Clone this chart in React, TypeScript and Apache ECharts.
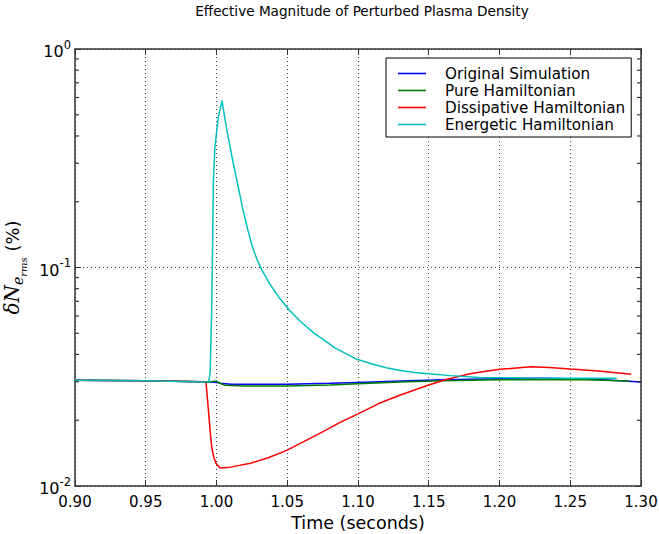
import React, { useEffect, useRef } from "react";
import * as echarts from "echarts";

const titleText = "Effective Magnitude of Perturbed Plasma Density";
const seriesNames = ["Original Simulation", "Pure Hamiltonian", "Dissipative Hamiltonian", "Energetic Hamiltonian"];
const seriesColors = ["#0000ff", "#008000", "#ff0000", "#00bfbf"];

const timeOriginal = [0.90, 0.95, 0.99, 0.995, 1.0, 1.003, 1.01, 1.03, 1.05, 1.08, 1.10, 1.13, 1.16, 1.20, 1.23, 1.25, 1.27, 1.30];
const valOriginal = [0.0305, 0.0303, 0.0300, 0.0300, 0.0298, 0.0295, 0.0292, 0.0292, 0.0292, 0.0295, 0.0298, 0.0302, 0.0306, 0.0310, 0.0311, 0.0310, 0.0307, 0.0299];

const timePure = [0.90, 0.95, 0.99, 0.997, 1.0, 1.002, 1.006, 1.02, 1.05, 1.08, 1.10, 1.13, 1.16, 1.20, 1.23, 1.26, 1.292];
const valPure = [0.0305, 0.0303, 0.0300, 0.0301, 0.0302, 0.0296, 0.0289, 0.0287, 0.0287, 0.0290, 0.0294, 0.0299, 0.0303, 0.0306, 0.0307, 0.0306, 0.0302];

const timeDissipative = [0.90, 0.95, 0.99, 0.9926, 0.9936, 0.9946, 0.9956, 0.9966, 0.998, 0.9996, 1.0025, 1.01, 1.024, 1.037, 1.05, 1.062, 1.075, 1.087, 1.10, 1.115, 1.13, 1.15, 1.163, 1.18, 1.20, 1.222, 1.235, 1.25, 1.27, 1.293];
const valDissipative = [0.0305, 0.0303, 0.0300, 0.0299, 0.0250, 0.0210, 0.0176, 0.0151, 0.0136, 0.0127, 0.0121, 0.0122, 0.0127, 0.0135, 0.0146, 0.0160, 0.0177, 0.0195, 0.0214, 0.0239, 0.0261, 0.0290, 0.0308, 0.0327, 0.0342, 0.0351, 0.0349, 0.0343, 0.0336, 0.0325];

const timeEnergetic = [0.90, 0.95, 0.99, 0.9945, 0.9955, 0.9965, 0.9972, 0.9978, 0.9989, 1.0013, 1.0039, 1.0055, 1.0072, 1.0092, 1.0118, 1.0145, 1.018, 1.0216, 1.0251, 1.0286, 1.0322, 1.0378, 1.0449, 1.0519, 1.059, 1.0682, 1.0837, 1.0993, 1.11, 1.12, 1.13, 1.14, 1.15, 1.165, 1.186, 1.22, 1.25, 1.2828];
const valEnergetic = [0.0305, 0.0303, 0.0299, 0.0300, 0.033, 0.06, 0.12, 0.25, 0.357, 0.49, 0.58, 0.50, 0.43, 0.368, 0.30, 0.249, 0.193, 0.1532, 0.1261, 0.1088, 0.0971, 0.0838, 0.0719, 0.0634, 0.0569, 0.0505, 0.0429, 0.0380, 0.0362, 0.0348, 0.0338, 0.0331, 0.0326, 0.0320, 0.0314, 0.0312, 0.0311, 0.0311];

const minorTickValues = [0.02, 0.03, 0.04, 0.05, 0.06, 0.07, 0.08, 0.09, 0.2, 0.3, 0.4, 0.5, 0.6, 0.7, 0.8, 0.9];

const X_MIN = 0.9;
const X_MAX = 1.3;
const FONT = "DejaVu Sans";

const zip = (t: number[], v: number[]) => t.map((x, i) => [x, v[i]]);

export default function App() {
  const ref = useRef<HTMLDivElement>(null);
  useEffect(() => {
    if (!ref.current) return;
    document.body.style.margin = "0";
    document.body.style.overflow = "hidden";
    const chart = echarts.init(ref.current, undefined, { renderer: "svg" });
    const datasets = [
      zip(timeOriginal, valOriginal),
      zip(timePure, valPure),
      zip(timeDissipative, valDissipative),
      zip(timeEnergetic, valEnergetic),
    ];
    const frame = "#333";
    const grid = { type: [1, 3], color: "#444", width: 1 };
    const option: any = {
      animation: false,
      backgroundColor: "#fff",
      textStyle: { fontFamily: FONT },
      title: {
        text: titleText,
        left: 357,
        top: -1,
        textAlign: "center",
        textStyle: { fontFamily: FONT, fontSize: 13.6, fontWeight: "normal", color: "#000" },
      },
      legend: {
        data: seriesNames.map((n) => ({ name: n, icon: "path://M0,0 L28,0 L28,1.6 L0,1.6 Z" })),
        orient: "vertical",
        left: 386,
        top: 58,
        width: 246,
        padding: [8, 6, 5, 12],
        itemWidth: 28,
        itemHeight: 14,
        itemGap: 2,
        symbolKeepAspect: true,
        backgroundColor: "#fff",
        borderColor: "#000",
        borderWidth: 1,
        borderRadius: 0,
        textStyle: { fontFamily: FONT, fontSize: 15.2, lineHeight: 15, color: "#000", padding: [0, 0, 0, 14] },
      },
      grid: { left: 75, top: 49, right: 18, bottom: 48, containLabel: false, outerBoundsMode: "none" },
      xAxis: [
        {
          type: "value",
          min: X_MIN,
          max: X_MAX,
          interval: 0.05,
          name: "Time (seconds)",
          nameLocation: "middle",
          nameGap: 26,
          nameTextStyle: { fontFamily: FONT, fontSize: 17.5, color: "#000" },
          axisLine: { show: true, onZero: false, lineStyle: { color: frame, width: 1.5 } },
          axisTick: { show: true, inside: true, length: 6, lineStyle: { color: frame } },
          axisLabel: {
            fontFamily: FONT,
            fontSize: 15,
            color: "#000",
            margin: 8,
            formatter: (v: number) => v.toFixed(2),
          },
          splitLine: { show: true, lineStyle: grid },
        },
        {
          type: "value",
          position: "top",
          min: X_MIN,
          max: X_MAX,
          interval: 0.05,
          axisLine: { show: true, onZero: false, lineStyle: { color: frame, width: 1.5 } },
          axisTick: { show: true, inside: true, length: 6, lineStyle: { color: frame } },
          axisLabel: { show: false },
          splitLine: { show: false },
        },
      ],
      yAxis: [
        {
          type: "log",
          logBase: 10,
          min: 0.01,
          max: 1,
          name: "{d|δN}{s|e}{ss|rms}{p| (%)}",
          nameLocation: "middle",
          nameRotate: 90,
          nameGap: 34,
          nameTextStyle: {
            color: "#000",
            rich: {
              d: { fontFamily: "DejaVu Serif", fontStyle: "italic", fontSize: 20, color: "#000", verticalAlign: "top" },
              s: { fontFamily: "DejaVu Serif", fontStyle: "italic", fontSize: 14, color: "#000", verticalAlign: "top", padding: [9, 0, 0, 0] },
              ss: { fontFamily: "DejaVu Serif", fontStyle: "italic", fontSize: 10, color: "#000", verticalAlign: "top", padding: [16, 0, 0, 0] },
              p: { fontFamily: FONT, fontSize: 18, color: "#000", verticalAlign: "top", padding: [1, 0, 0, 0] },
            },
          },
          axisLine: { show: true, onZero: false, lineStyle: { color: frame, width: 1.5 } },
          axisTick: { show: true, inside: true, length: 6, lineStyle: { color: frame } },
          axisLabel: {
            margin: 4,
            formatter: (v: number) => {
              const e = Math.round(Math.log10(v));
              return "{b|10}{u|" + e + "}";
            },
            rich: {
              b: { fontFamily: FONT, fontSize: 16, color: "#000", verticalAlign: "bottom" },
              u: { fontFamily: FONT, fontSize: 11.5, color: "#000", verticalAlign: "bottom", padding: [0, 0, 9, 0] },
            },
          },
          splitLine: { show: true, lineStyle: grid },
        },
        {
          type: "log",
          logBase: 10,
          min: 0.01,
          max: 1,
          position: "right",
          axisLine: { show: true, onZero: false, lineStyle: { color: frame, width: 1.5 } },
          axisTick: { show: true, inside: true, length: 6, lineStyle: { color: frame } },
          axisLabel: { show: false },
          splitLine: { show: false },
        },
      ],
      series: [
        ...datasets.map((d, i) => ({
          name: seriesNames[i],
          type: "line",
          data: d,
          xAxisIndex: 0,
          yAxisIndex: 0,
          showSymbol: false,
          symbol: "none",
          smooth: false,
          color: seriesColors[i],
          lineStyle: { color: seriesColors[i], width: 1.5 },
          z: 3 + i,
        })),
        {
          name: "minorTicks",
          type: "custom",
          xAxisIndex: 0,
          yAxisIndex: 0,
          silent: true,
          z: 10,
          clip: false,
          data: minorTickValues.map((v) => [1.1, v]),
          encode: { x: 0, y: 1 },
          renderItem: (_p: any, api: any) => {
            const v = api.value(1);
            const pl = api.coord([X_MIN, v]);
            const pr = api.coord([X_MAX, v]);
            return {
              type: "group",
              children: [
                { type: "line", shape: { x1: pl[0], y1: pl[1], x2: pl[0] + 4, y2: pl[1] }, style: { stroke: frame, lineWidth: 1.2 } },
                { type: "line", shape: { x1: pr[0], y1: pr[1], x2: pr[0] - 4, y2: pr[1] }, style: { stroke: frame, lineWidth: 1.2 } },
              ],
            };
          },
        },
      ],
    };
    chart.setOption(option);
    return () => chart.dispose();
  }, []);
  return <div ref={ref} style={{ position: "absolute", left: 0, top: 0, width: 659, height: 534 }} />;
}
